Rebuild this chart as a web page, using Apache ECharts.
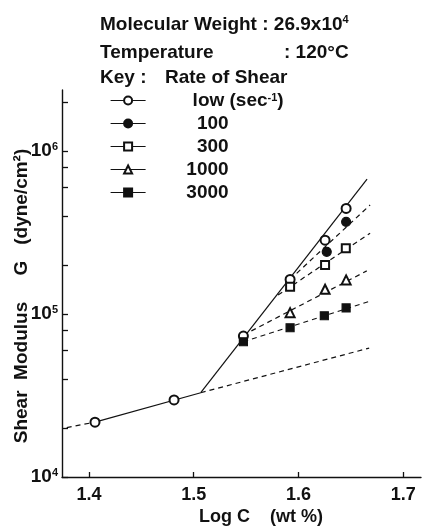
<!DOCTYPE html>
<html>
<head>
<meta charset="utf-8">
<script src="https://cdn.jsdelivr.net/npm/echarts@6/dist/echarts.min.js"></script>
<style>
html,body{margin:0;padding:0;background:#fff;}
#chart{width:423px;height:529px;}
</style>
</head>
<body>
<div id="chart"></div>
<script>
// ---- data ----
const seriesNames = ['low', '100', '300', '1000', '3000'];
const xTicks = [1.4, 1.5, 1.6, 1.7];
const yMajorTicks = [1e4, 1e5, 1e6];
const yAllTicks = [1e4, 2e4, 4e4, 6e4, 8e4, 1e5, 2e5, 4e5, 6e5, 8e5, 1e6, 2e6];

// measured points (Log C, G)
const ptsLow  = [[1.4057, 2.17e4], [1.4812, 2.97e4], [1.5474, 7.33e4], [1.5920, 1.63e5], [1.6254, 2.84e5], [1.6455, 4.45e5]];
const pts100  = [[1.6270, 2.41e5], [1.6455, 3.68e5]];
const pts300  = [[1.5920, 1.47e5], [1.6254, 2.00e5], [1.6452, 2.53e5]];
const pts1000 = [[1.5920, 1.02e5], [1.6254, 1.42e5], [1.6455, 1.62e5]];
const pts3000 = [[1.5474, 6.76e4], [1.5920, 8.24e4], [1.6247, 9.76e4], [1.6455, 1.09e5]];

// fitted lines (end points)
const lowLeftDash  = [[1.3787, 2.01e4], [1.4057, 2.17e4]];
const lowSolid     = [[1.4057, 2.17e4], [1.5067, 3.29e4]];
const lowRightDash = [[1.5067, 3.29e4], [1.6675, 6.18e4]];
const steepSolid   = [[1.5067, 3.29e4], [1.6655, 6.73e5]];
const fit100  = [[1.5920, 1.63e5], [1.6684, 4.67e5]];
const fit300  = [[1.5805, 1.31e5], [1.6684, 3.13e5]];
const fit1000 = [[1.5474, 7.43e4], [1.6652, 1.84e5]];
const fit3000 = [[1.5474, 6.76e4], [1.6684, 1.20e5]];

const FONT = 'Liberation Sans';
const INK = '#111';

const chart = echarts.init(document.getElementById('chart'), null, {renderer: 'canvas'});

function fitLine(data, dashed) {
  return {
    type: 'line', data: data, symbol: 'none', silent: true, z: 2,
    lineStyle: {color: INK, width: 1.2, type: dashed ? [5, 4] : 'solid'}
  };
}
function markerSeries(name, data, symbol, size) {
  return {
    name: name, type: 'line', data: data, symbol: symbol, symbolSize: size, z: 5,
    showAllSymbol: true,
    lineStyle: {width: 0, opacity: 0},
    itemStyle: {color: INK, borderColor: INK, borderWidth: 1.2}
  };
}

const txt = {fontFamily: FONT, fontWeight: 'bold', fontSize: 19, fill: INK};
const lgBase = {fontFamily: FONT, fontWeight: 'bold', fontSize: 19, color: INK, lineHeight: 16};

const option = {
  animation: false,
  backgroundColor: '#fff',
  grid: {left: 62, right: 2, top: 90, bottom: 52},
  xAxis: {
    type: 'value', min: 1.3742, max: 1.717,
    axisLine: {lineStyle: {color: INK, width: 1.4}},
    axisTick: {inside: true, length: 5, customValues: xTicks, lineStyle: {color: INK, width: 1.3}},
    axisLabel: {customValues: xTicks, formatter: v => v.toFixed(1), color: INK,
      fontFamily: FONT, fontWeight: 'bold', fontSize: 18, margin: 9},
    splitLine: {show: false}
  },
  yAxis: {
    type: 'log', logBase: 10, min: 1e4, max: 2.37e6,
    axisLine: {show: true, lineStyle: {color: INK, width: 1.4}},
    axisTick: {inside: true, length: 6, customValues: yAllTicks, lineStyle: {color: INK, width: 1.3}},
    minorTick: {show: false},
    axisLabel: {
      customValues: yMajorTicks, margin: 4, color: INK,
      formatter: v => '{b|10}{s|' + Math.round(Math.log10(v)) + '}',
      rich: {
        b: {fontFamily: FONT, fontWeight: 'bold', fontSize: 19, color: INK, lineHeight: 20},
        s: {fontFamily: FONT, fontWeight: 'bold', fontSize: 11, color: INK, verticalAlign: 'top', lineHeight: 20}
      }
    },
    splitLine: {show: false}
  },
  legend: {
    show: true, orient: 'vertical', left: 110, top: 91, padding: 0,
    itemWidth: 35, itemHeight: 10, itemGap: 4,
    data: seriesNames,
    lineStyle: {color: INK, width: 1.2, opacity: 1, type: 'solid'},
    textStyle: Object.assign({}, lgBase, {
      rich: {
        n: Object.assign({}, lgBase, {width: 78, align: 'right'}),
        l: Object.assign({}, lgBase),
        p: Object.assign({}, lgBase, {padding: [0, 0, 0, 42]}),
        u: Object.assign({}, lgBase, {fontSize: 11, verticalAlign: 'top'})
      }
    }),
    formatter: name => name === 'low' ? '{p|low (sec}{u|-1}{l|)}' : '{n|' + name + '}',
    selectedMode: false
  },
  graphic: [
    {type: 'text', left: 100, top: 14, style: Object.assign({}, txt, {
      text: '{t|Molecular Weight : 26.9x10}{s|4}',
      rich: {t: {fontFamily: FONT, fontWeight: 'bold', fontSize: 19, fill: INK, lineHeight: 22},
             s: {fontFamily: FONT, fontWeight: 'bold', fontSize: 11, fill: INK, verticalAlign: 'top', lineHeight: 22}}
    })},
    {type: 'text', left: 100, top: 43, style: Object.assign({}, txt, {text: 'Temperature'})},
    {type: 'text', left: 284, top: 43, style: Object.assign({}, txt, {text: ': 120°C'})},
    {type: 'text', left: 100, top: 68, style: Object.assign({}, txt, {text: 'Key :'})},
    {type: 'text', left: 165, top: 68, style: Object.assign({}, txt, {text: 'Rate of Shear'})},
    {type: 'text', x: 22, y: 296, rotation: Math.PI / 2, style: Object.assign({}, txt, {
      text: 'Shear  Modulus     G   (dyne/cm²)', align: 'center', verticalAlign: 'middle'})},
    {type: 'text', x: 261, y: 517, style: Object.assign({}, txt, {
      text: 'Log C    (wt %)', align: 'center', verticalAlign: 'middle', fontSize: 18})}
  ],
  series: [
    fitLine(lowLeftDash, true),
    fitLine(lowSolid, false),
    fitLine(lowRightDash, true),
    fitLine(steepSolid, false),
    fitLine(fit100, true),
    fitLine(fit300, true),
    fitLine(fit1000, true),
    fitLine(fit3000, true),
    markerSeries('low', ptsLow, 'emptyCircle', 9),
    markerSeries('100', pts100, 'circle', 9),
    markerSeries('300', pts300, 'emptyRect', 8),
    markerSeries('1000', pts1000, 'emptyTriangle', 9),
    markerSeries('3000', pts3000, 'rect', 8)
  ]
};
chart.setOption(option);
</script>
</body>
</html>
